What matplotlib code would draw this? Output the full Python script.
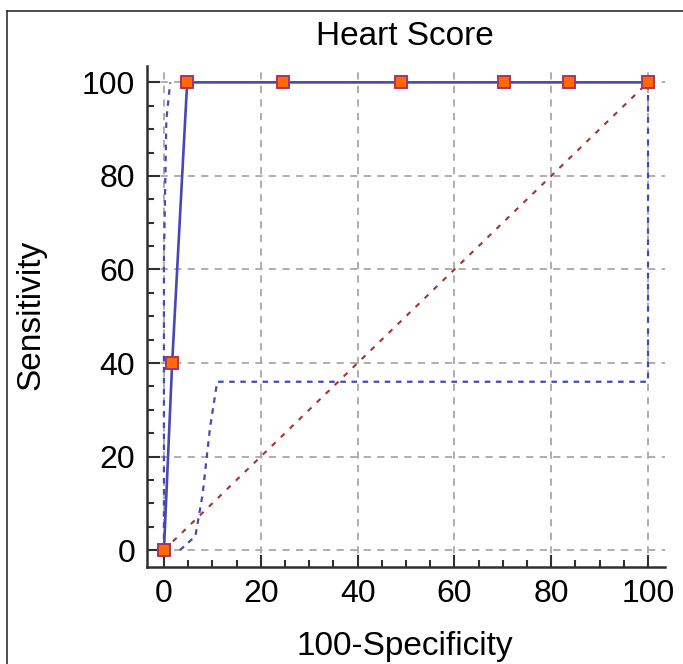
import matplotlib
matplotlib.use("Agg")
import matplotlib.pyplot as plt
from matplotlib.lines import Line2D
from matplotlib.ticker import MultipleLocator

plt.rcParams['font.family'] = ['Liberation Sans', 'DejaVu Sans']

# ROC points (100-Specificity, Sensitivity)
roc_x = [0, 1.7, 4.8, 24.7, 49.0, 70.3, 83.6, 100]
roc_y = [0, 40, 100, 100, 100, 100, 100, 100]

# confidence bounds
upper_x = [0, 0, 0.5, 1.3]
upper_y = [0, 62, 92, 100]
lower_x = [3.3, 6.5, 8.0, 9.5, 11.0, 100, 100]
lower_y = [0, 3, 12, 26, 36, 36, 100]

diag = [0, 100]
ticks = [0, 20, 40, 60, 80, 100]

line_col = '#4848b4'

fig = plt.figure(figsize=(6.83, 6.64), dpi=100)
ax = fig.add_axes([0.2152, 0.1461, 0.7584, 0.7545])

ax.grid(True, color='#a8a8a8', linestyle=(0, (4, 3.5)), linewidth=1.3)
ax.set_axisbelow(True)

ax.plot(diag, diag, color='#a83232', linestyle=(0, (2.5, 3.5)), linewidth=1.5)
ax.plot(upper_x, upper_y, color=line_col, linestyle=(0, (2.5, 2.5)), linewidth=1.6)
ax.plot(lower_x, lower_y, color=line_col, linestyle=(0, (2.5, 2.5)), linewidth=1.6)
ax.plot(roc_x, roc_y, color=line_col, linewidth=1.9, marker='s', markersize=8.8,
        markerfacecolor='#ff6a00', markeredgecolor='#b03060', markeredgewidth=1.4,
        clip_on=False, zorder=5)

ax.set_xlim(-3.5, 103.5)
ax.set_ylim(-3.6, 103.5)
ax.set_xticks(ticks)
ax.set_yticks(ticks)
ax.xaxis.set_minor_locator(MultipleLocator(5))
ax.yaxis.set_minor_locator(MultipleLocator(5))

for s in ['top', 'right']:
    ax.spines[s].set_visible(False)
for s in ['left', 'bottom']:
    ax.spines[s].set_color('#303030')
    ax.spines[s].set_linewidth(1.8)

ax.tick_params(which='major', direction='in', length=9, width=1.5, color='#303030',
               labelsize=23, pad=8.5)
ax.tick_params(which='minor', direction='in', length=5, width=1.5, color='#303030')

fig.text(0.593, 0.9322, 'Heart Score', fontsize=24, ha='center', va='baseline')
fig.text(0.593, 0.0136, '100-Specificity', fontsize=24, ha='center', va='baseline')
fig.text(0.045, 0.5256, 'Sensitivity', fontsize=24, ha='center', va='center',
         rotation=90)

# outer frame (left and top edges visible)
fig.add_artist(Line2D([0.0103, 0.0103], [0, 0.9834], transform=fig.transFigure,
                      color='#303030', linewidth=1.2))
fig.add_artist(Line2D([0.0103, 1.0], [0.9834, 0.9834], transform=fig.transFigure,
                      color='#303030', linewidth=1.2))

fig.savefig('out.png', dpi=100)
